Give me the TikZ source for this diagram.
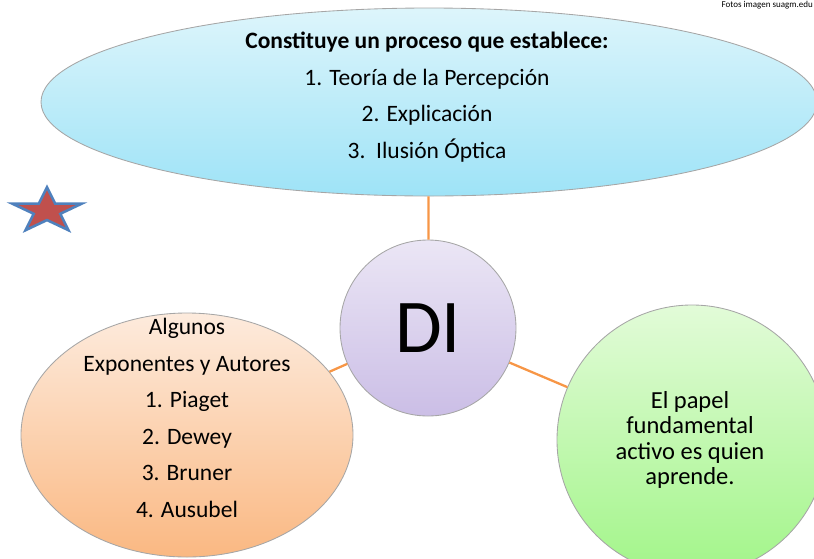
\documentclass[tikz,border=0pt]{standalone}
\usepackage{fontspec}
\setmainfont{Carlito}
\usetikzlibrary{shapes.geometric}
\definecolor{linkorange}{HTML}{F79646}
\definecolor{skytop}{HTML}{DDF5FB}
\definecolor{skybot}{HTML}{9EE3F7}
\definecolor{lilatop}{HTML}{EBE6F5}
\definecolor{lilabot}{HTML}{CBBEE6}
\definecolor{peachtop}{HTML}{FDEBDD}
\definecolor{peachbot}{HTML}{FAB882}
\definecolor{minttop}{HTML}{E2FBD8}
\definecolor{mintbot}{HTML}{A2F589}
\definecolor{starred}{HTML}{C0504D}
\definecolor{starblue}{HTML}{4F81BD}
\tikzset{
  bubble/.style={draw=black!35, line width=0.3mm, inner sep=0pt},
  link/.style={draw=linkorange, line width=0.8mm},
  listtext/.style={align=center, font=\fontsize{23.5}{36.5}\selectfont},
}

\begin{document}
\begin{tikzpicture}[x=1pt,y=-1pt]
			%%%%% START %%%%%
			\clip (0,0) rectangle (814,558);
			
			\node[bubble, ellipse, top color=skytop, bottom color=skybot, minimum width=776pt, minimum height=188pt] (proceso) at (429,102) {};
			\node[listtext] (procesotxt) at (427,97) {\textbf{Constituye un proceso que establece:}\\1. Teoría de la Percepción\\2. Explicación\\3.\ \ Ilusión Óptica};
			
			\node[bubble, circle, top color=lilatop, bottom color=lilabot, minimum size=176pt] (di) at (428,328) {};
			\node[font=\fontsize{76}{76}\selectfont] (ditxt) at (428,328) {DI};
			
			\node[bubble, ellipse, top color=peachtop, bottom color=peachbot, minimum width=332pt, minimum height=244pt] (autores) at (187,435) {};
			\node[listtext] (autorestxt) at (187,418) {Algunos\\Exponentes y Autores\\1. Piaget\\2. Dewey\\3. Bruner\\4. Ausubel};
			
			\node[bubble, circle, top color=minttop, bottom color=mintbot, minimum size=270pt] (papel) at (692,440) {};
			\node[align=center, font=\fontsize{24.5}{25.5}\selectfont] (papeltxt) at (690,440) {El papel\\fundamental\\activo es quien\\aprende.};
			
			\draw[link] (proceso) -- (di);
			\draw[link] (autores) -- (di);
			\draw[link] (papel) -- (di);
			
			\node[star, star points=5, star point ratio=2.618, minimum size=73pt, inner sep=0pt, fill=starred, draw=starblue, line width=0.9mm, yscale=0.65, transform shape] (estrella) at (47,211) {};
			
			\node[anchor=north east, inner sep=0pt, font=\fontsize{9}{9}\selectfont] (fotos) at (813,1) {Fotos imagen suagm.edu};
			%%%%% END %%%%%
		\end{tikzpicture}
\end{document}
